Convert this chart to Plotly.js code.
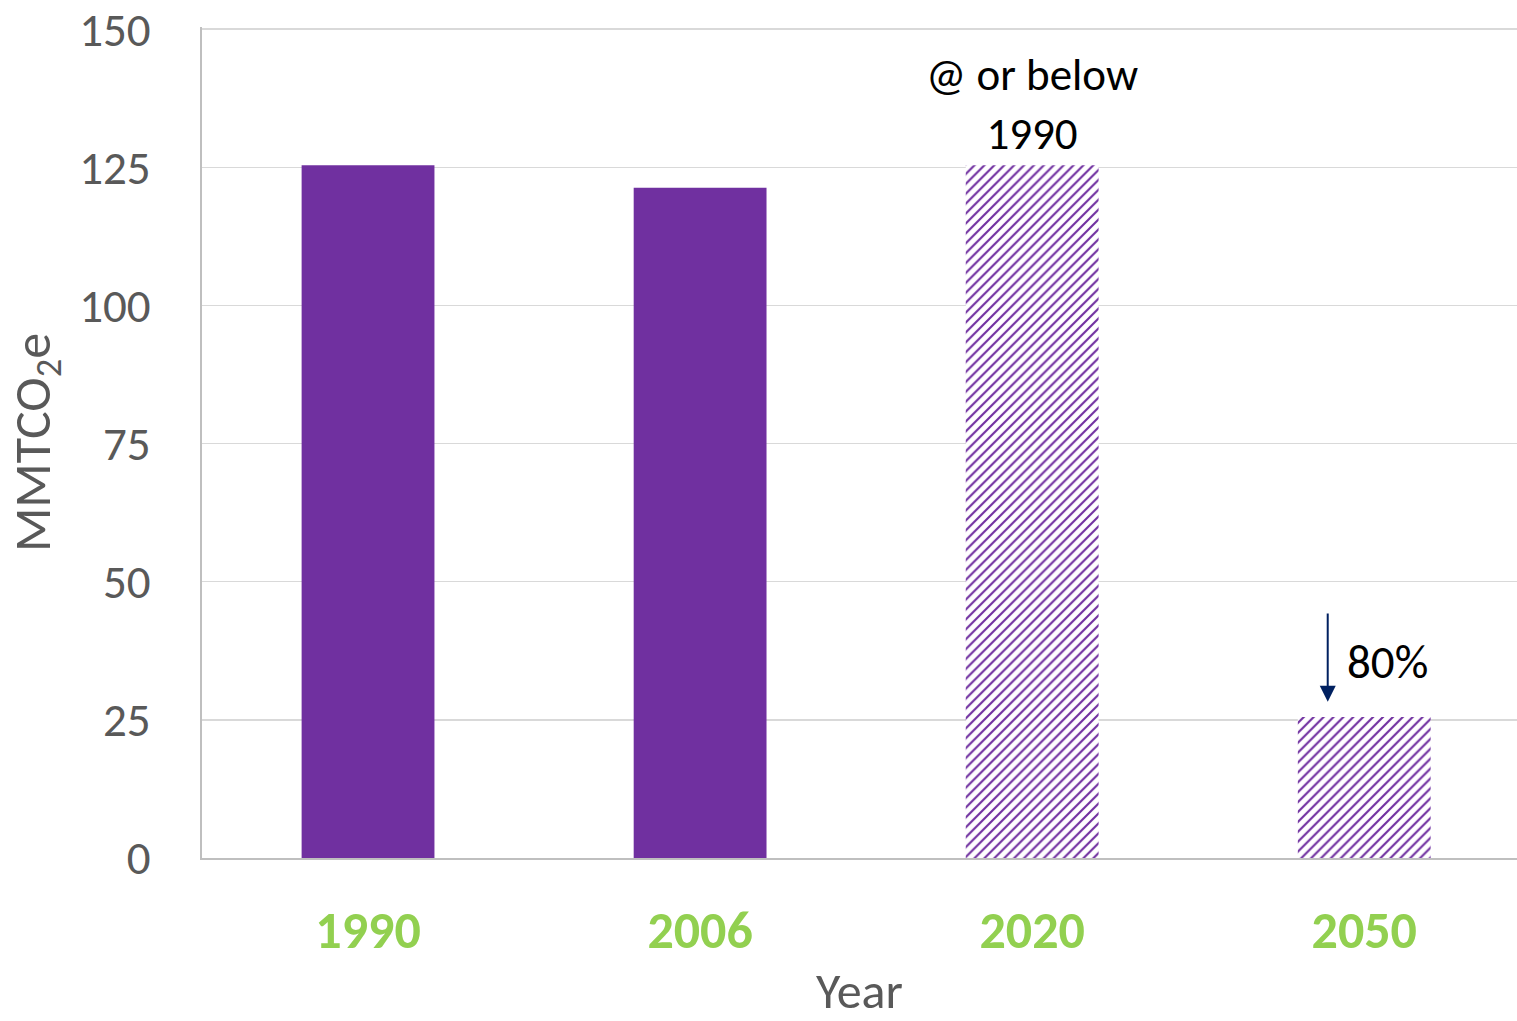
<!DOCTYPE html>
<html>
<head>
<meta charset="utf-8">
<script src="https://cdn.plot.ly/plotly-3.0.1.min.js"></script>
<style>html,body{margin:0;padding:0;background:#fff;}#chart{width:1517px;height:1021px;}</style>
</head>
<body>
<div id="chart"></div>
<script>
const years = ['1990', '2006', '2020', '2050'];
const emissions = [125.4, 121.3, 125.4, 25.5];
const patternShapes = ['', '', '/', '/'];
const yTicks = [0, 25, 50, 75, 100, 125, 150];

const FONT = 'Carlito, Lato, "Open Sans", sans-serif';
const purple = '#7030A0';

const trace = {
  type: 'bar',
  x: years,
  y: emissions,
  width: 0.4,
  marker: {
    color: purple,
    line: {width: 0},
    pattern: {shape: patternShapes, fgcolor: purple, bgcolor: '#ffffff', size: 7, solidity: 0.3, fillmode: 'replace'}
  },
  hoverinfo: 'skip'
};

const layout = {
  width: 1517, height: 1021,
  margin: {l: 202, r: 0, t: 27, b: 163},
  paper_bgcolor: '#fff', plot_bgcolor: '#fff',
  showlegend: false,
  font: {family: FONT, color: '#595959'},
  xaxis: {
    type: 'category',
    range: [-0.5, 3.46],
    tickfont: {family: FONT, size: 52, color: '#92D050', weight: 'bold'},
    showline: true, linecolor: '#BFBFBF', linewidth: 2,
    ticks: '', showgrid: false,
    ticklabelstandoff: 26,
    automargin: false,
    title: {text: 'Year', font: {family: FONT, size: 50, color: '#595959'}, standoff: 40}
  },
  yaxis: {
    range: [0, 150.4],
    tickvals: yTicks,
    ticktext: yTicks.map(String),
    tickfont: {family: FONT, size: 47, color: '#595959'},
    gridcolor: '#D9D9D9', gridwidth: 1.5,
    showline: true, linecolor: '#BFBFBF', linewidth: 2,
    zeroline: false, ticks: '',
    ticklabelstandoff: 40,
    automargin: false,
    title: {text: 'MMTCO<sub>2</sub>e', font: {family: FONT, size: 52, color: '#595959'}, standoff: 14}
  },
  annotations: [
    {xref: 'x', yref: 'y', x: 2, y: 136.4, text: '@ or below<br>1990', showarrow: false,
     font: {family: FONT, size: 45, color: '#000'}, align: 'center'},
    {xref: 'x', yref: 'y', x: 3.07, y: 35.4, text: '80%', showarrow: false,
     font: {family: FONT, size: 47, color: '#000'}},
    {xref: 'x', yref: 'y', axref: 'x', ayref: 'y', x: 2.89, y: 28.3, ax: 2.89, ay: 45.8,
     text: ' ', showarrow: true, arrowhead: 2, arrowsize: 1.6, arrowwidth: 2, arrowcolor: '#002060'}
  ]
};

Plotly.newPlot('chart', [trace], layout, {displayModeBar: false, staticPlot: true});
</script>
</body>
</html>
